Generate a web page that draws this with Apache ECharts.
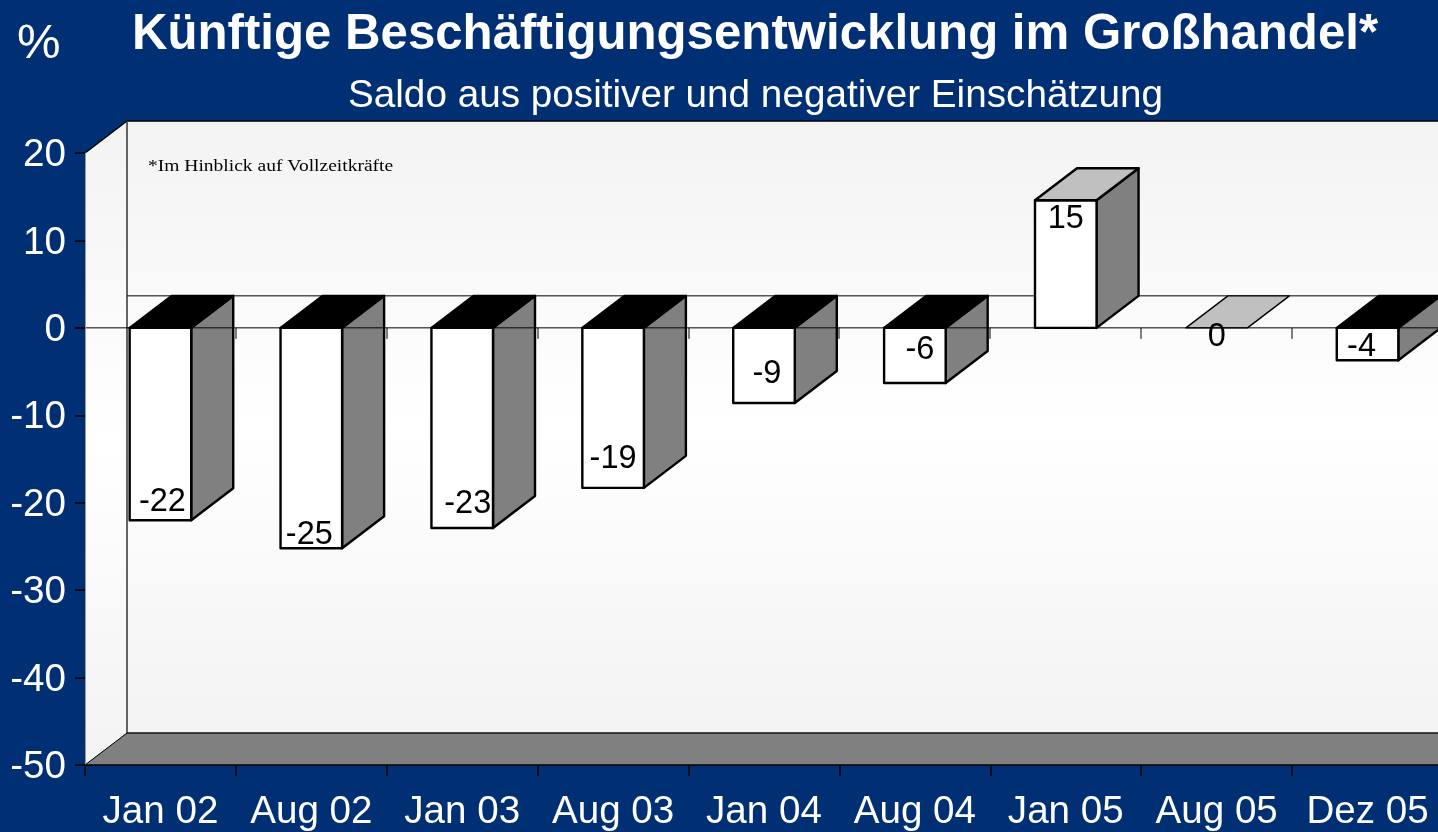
<!DOCTYPE html>
<html>
<head>
<meta charset="utf-8">
<style>html,body{margin:0;padding:0;background:#003073;overflow:hidden}#c{width:1438px;height:832px}</style>
<script src="https://cdn.jsdelivr.net/npm/echarts@6/dist/echarts.min.js"></script>
</head>
<body>
<div id="c"></div>
<script>
const categories = ['Jan 02','Aug 02','Jan 03','Aug 03','Jan 04','Aug 04','Jan 05','Aug 05','Dez 05'];
const values = [-22.0,-25.2,-22.9,-18.3,-8.6,-6.3,14.6,0,-3.7];
const valueLabels = ['-22','-25','-23','-19','-9','-6','15','0','-4'];
const titleText = 'Künftige Beschäftigungsentwicklung im Großhandel*';
const subtitleText = 'Saldo aus positiver und negativer Einschätzung';
const unitText = '%';
const noteText = '*Im Hinblick auf Vollzeitkräfte';

// Styling / presentation
const BG = '#003073', SANS = '"Liberation Sans", Arial, sans-serif';
const DX = 42, DY = -32, BAR_RATIO = 0.408;
// label placement relative to the bar's centre / far end (pixels)
const labelDX = [2,-2,5.5,0,3,5,0,0,-6];
const labelDY = [-18,-13,-24,-29,-29,-33,19,9,-13];

const wallGrad = new echarts.graphic.LinearGradient(0,0,0,1,[
  {offset:0,color:'#f3f3f3'},{offset:0.5,color:'#ffffff'},{offset:1,color:'#f3f3f3'}]);
const poly = (pts, fill, stroke, lw) => ({type:'polygon',shape:{points:pts},
  style:{fill:fill,stroke:stroke||null,lineWidth:lw||0,lineJoin:'round'}});
const line = (x1,y1,x2,y2,stroke,lw) => ({type:'line',shape:{x1,y1,x2,y2},
  style:{stroke,lineWidth:lw}});

function renderFrame(params, api){
  const g = params.coordSys, x0=g.x, x1=g.x+g.width, yT=g.y, yB=g.y+g.height;
  const y0 = api.coord([0,0])[1];
  return {type:'group',children:[
    poly([[x0,yT],[x0+DX,yT+DY],[x0+DX,yB+DY],[x0,yB]],wallGrad),
    poly([[x0+DX,yT+DY],[x1+DX,yT+DY],[x1+DX,yB+DY],[x0+DX,yB+DY]],wallGrad),
    poly([[x0,yB],[x0+DX,yB+DY],[x1+DX,yB+DY],[x1,yB]],'#808080'),
    line(x0,yT,x0+DX,yT+DY,'#000',1.5),
    line(x0+DX,yT+DY,x1+DX,yT+DY,'#000',1.5),
    line(x0+DX,yT+DY,x0+DX,yB+DY,'#333',1.5),
    line(x0+DX,yB+DY,x1+DX,yB+DY,'#111',1.5),
    line(x0,yB,x0+DX,yB+DY,'#000',1),
    line(x0+DX,y0+DY,x1+DX,y0+DY,'#000',1)
  ]};
}
function renderBar(params, api){
  const i = api.value(0), v = api.value(1);
  const c = api.coord([i,v]), y0 = api.coord([i,0])[1];
  const bw = api.size([1,0])[0]*BAR_RATIO;
  const L = c[0]-bw/2, R = c[0]+bw/2, T = Math.min(y0,c[1]), B = Math.max(y0,c[1]);
  const kids = [];
  if (B>T){
    kids.push(poly([[R,T],[R+DX,T+DY],[R+DX,B+DY],[R,B]],'#808080','#000',2.4));
    kids.push(poly([[L,T],[R,T],[R,B],[L,B]],'#ffffff','#000',2.4));
  }
  kids.push(poly([[L,T],[L+DX,T+DY],[R+DX,T+DY],[R,T]],v<0?'#000000':'#c0c0c0','#000',v===0?1.4:2.4));
  return {type:'group',children:kids};
}
function renderZero(params, api){
  const g = params.coordSys, y0 = api.coord([0,0])[1];
  const kids = [line(g.x-10,y0,g.x+g.width,y0,'#000',1)];
  const band = api.size([1,0])[0];
  categories.forEach((_,k)=>{
    const x = Math.round(g.x+band*(k+1));
    kids.push(line(x,y0,x,y0+11,'#000',1));
  });
  return {type:'group',children:kids};
}
function renderLabel(params, api){
  const i = api.value(0), c = api.coord([i,api.value(1)]);
  return {type:'text',style:{text:valueLabels[i],x:c[0]+labelDX[i],y:c[1]+labelDY[i],
    textAlign:'center',textVerticalAlign:'middle',fill:'#000',font:'32.5px '+SANS}};
}

const chart = echarts.init(document.getElementById('c'),null,{renderer:'canvas',width:1438,height:832});
const barData = values.map((v,i)=>[i,v]);
chart.setOption({
  animation:false,
  backgroundColor:BG,
  title:[
    {text:titleText,left:750,top:6,textAlign:'center',
     textStyle:{color:'#fff',fontFamily:SANS,fontWeight:'bold',fontSize:49.2}},
    {text:subtitleText,left:750.5,top:72,textAlign:'center',
     textStyle:{color:'#fff',fontFamily:SANS,fontWeight:'normal',fontSize:38.7}}
  ],
  grid:{left:85,top:153,width:1358,height:612,containLabel:false,outerBoundsMode:'none'},
  xAxis:{type:'category',data:categories,z:10,
    axisLine:{show:true,onZero:false,lineStyle:{color:'#000',width:1.5}},
    axisTick:{show:true,length:11,lineStyle:{color:'#000',width:1.5}},
    axisLabel:{color:'#fff',fontFamily:SANS,fontSize:38.6,margin:27.5,interval:0}},
  yAxis:{type:'value',min:-50,max:20,interval:10,z:10,
    axisLine:{show:true,lineStyle:{color:'#9a9a9a',width:1}},
    axisTick:{show:true,length:10,lineStyle:{color:'#000',width:1.5}},
    axisLabel:{margin:19,formatter:'{v|{value}}',
      rich:{v:{color:'#fff',fontFamily:SANS,fontSize:38.6,padding:[5,0,0,0]}}},
    splitLine:{show:false}},
  graphic:[
    {type:'text',z:100,left:17,top:20,style:{text:unitText,fill:'#fff',font:'49px '+SANS}},
    {type:'text',z:100,x:148,y:159,scaleX:1.22,style:{text:noteText,fill:'#000',font:'16px "Liberation Serif", serif'}}
  ],
  series:[
    {type:'custom',z:1,silent:true,clip:false,renderItem:renderFrame,data:[[0,0]]},
    {type:'custom',z:2,silent:true,clip:false,renderItem:renderBar,data:barData},
    {type:'custom',z:3,silent:true,clip:false,renderItem:renderZero,data:[[0,0]]},
    {type:'custom',z:4,silent:true,clip:false,renderItem:renderLabel,data:barData}
  ]
});
</script>
</body>
</html>
